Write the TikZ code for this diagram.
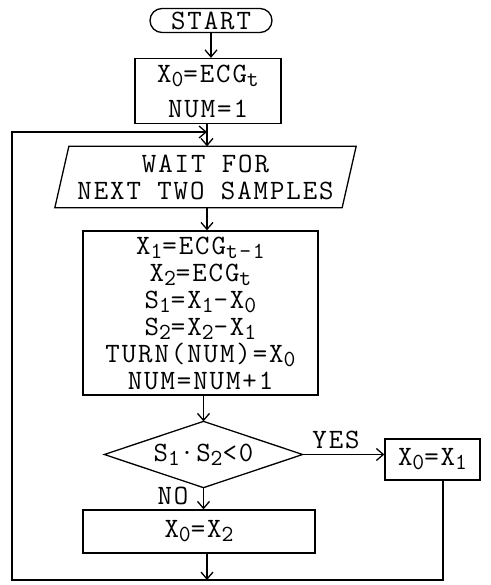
\documentclass[tikz,border=0pt]{standalone}
\usepackage{fontspec}
\setmainfont{Latin Modern Mono}[LetterSpace=7]
\usetikzlibrary{arrows.meta,calc}
\newcommand\lo[1]{\raisebox{-4pt}{\fontsize{23}{23}\selectfont#1}}
\newcommand\tfont[1]{\fontsize{28}{#1}\selectfont\lineskiplimit=-100pt\relax}
\begin{document}
\begin{tikzpicture}[x=1pt,y=-1pt, line width=1.3pt,
  every node/.style={font=\tfont{26}, inner sep=0pt},
  box/.style={draw, rectangle},
  arr/.style={-{Straight Barb[length=7pt,width=12pt]}}]
\useasboundingbox (0,0) rectangle (490,585);
\node[box, rounded corners=12pt, minimum width=122, minimum height=24] (start) at (211,20.5) {START};
\node[box, minimum width=146, minimum height=65, align=center,
  font=\tfont{35}] (init) at (208,91) {X\lo{0}=ECG\lo{t}\\NUM=1};
\coordinate (join) at (207,132);
\node[minimum width=286, minimum height=60, align=center,
  font=\tfont{27}] (wait) at (205.5,177) {WAIT FOR\\NEXT TWO SAMPLES};
\draw ([xshift=7pt]wait.north west) -- ([xshift=7pt]wait.north east)
  -- ([xshift=-7pt]wait.south east) -- ([xshift=-7pt]wait.south west) -- cycle;
\node[box, minimum width=235, minimum height=164, align=center, font=\tfont{27}] (proc) at (200.5,313)
  {X\lo{1}=ECG\lo{t-1}\\X\lo{2}=ECG\lo{t}\\S\lo{1}=X\lo{1}-X\lo{0}\\S\lo{2}=X\lo{2}-X\lo{1}\\TURN(NUM)=X\lo{0}\\NUM=NUM+1};
\node[minimum width=197, minimum height=65] (dec) at (203.5,454.5) {S\lo{1}·S\lo{2}<0};
\draw (dec.north) -- (dec.east) -- (dec.south) -- (dec.west) -- cycle;
\node[box, minimum width=95, minimum height=41] (x1) at (432.5,459.5) {X\lo{0}=X\lo{1}};
\node (yes) at (336,440) {YES};
\node (no) at (173,496) {NO};
\node[box, minimum width=232, minimum height=43] (x2) at (199,531.5) {X\lo{0}=X\lo{2}};
\coordinate (bot) at (207,580);
\coordinate (lft) at (12,580);
\draw[arr] (start.south) -- (start.south |- init.north);
\draw[arr] (join |- init.south) -- (join |- wait.north);
\draw[arr] (join |- wait.south) -- (join |- proc.north);
\draw[arr] (dec.north |- proc.south) -- (dec.north);
\draw[arr] (dec.east) -- (dec.east -| x1.west);
\draw[arr] (dec.south) -- (dec.south |- x2.north);
\draw[arr] (bot |- x2.south) -- (bot);
\draw[arr] ([xshift=10.5pt]x1.south) |- (lft) |- (join);
\end{tikzpicture}
\end{document}
